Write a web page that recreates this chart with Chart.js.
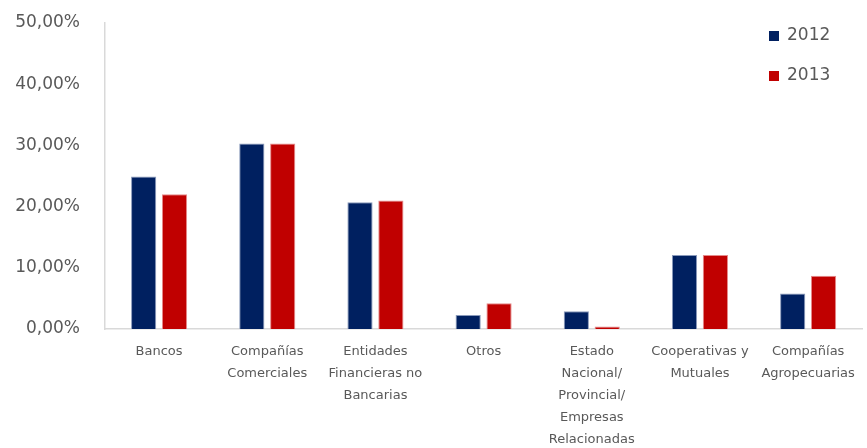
<!DOCTYPE html>
<html>
<head>
<meta charset="utf-8">
<script src="https://cdn.jsdelivr.net/npm/chart.js@4/dist/chart.umd.min.js"></script>
<style>
  html, body { margin: 0; padding: 0; background: #ffffff; }
  #wrap { width: 867px; height: 448px; position: relative; }
</style>
</head>
<body>
<div id="wrap"><canvas id="c" width="867" height="448"></canvas></div>
<script>
// Participación por tipo de emisor (porcentaje)
const categories = [
  'Bancos',
  ['Compañías', 'Comerciales'],
  ['Entidades', 'Financieras no', 'Bancarias'],
  'Otros',
  ['Estado', 'Nacional/', 'Provincial/', 'Empresas', 'Relacionadas'],
  ['Cooperativas y', 'Mutuales'],
  ['Compañías', 'Agropecuarias']
];
const seriesNames = ['2012', '2013'];
const values2012 = [24.9, 30.3, 20.7, 2.3, 2.9, 12.1, 5.8];
const values2013 = [22.0, 30.3, 21.0, 4.2, 0.4, 12.1, 8.7];
const yTicks = [0, 10, 20, 30, 40, 50];

const BLUE = '#002060';
const RED = '#C00000';
const TEXT = '#595959';
const AXIS = '#d9d9d9';
const FONT = "'DejaVu Sans', 'Liberation Sans', sans-serif";

// Legend drawn in the upper-right corner, over the plot area
const cornerLegend = {
  id: 'cornerLegend',
  afterDraw(chart) {
    const ctx = chart.ctx;
    ctx.save();
    ctx.font = '17px ' + FONT;
    ctx.textBaseline = 'middle';
    ctx.textAlign = 'left';
    chart.data.datasets.forEach((ds, i) => {
      const y = 36 + i * 40;
      ctx.fillStyle = ds.backgroundColor;
      ctx.fillRect(769, y - 5, 10, 10);
      ctx.fillStyle = TEXT;
      ctx.fillText(ds.label, 787, y);
    });
    ctx.restore();
  }
};

new Chart(document.getElementById('c'), {
  type: 'bar',
  data: {
    labels: categories,
    datasets: [
      { label: seriesNames[0], data: values2012, backgroundColor: BLUE, borderColor: '#8a9abb', borderWidth: 1 },
      { label: seriesNames[1], data: values2013, backgroundColor: RED, borderColor: '#e58a8a', borderWidth: 1 }
    ]
  },
  options: {
    responsive: false,
    animation: false,
    layout: { padding: { top: 23, right: 2, left: 0, bottom: 0 } },
    datasets: { bar: { categoryPercentage: 0.571, barPercentage: 0.816 } },
    plugins: {
      legend: { display: false },
      tooltip: { enabled: false }
    },
    scales: {
      x: {
        grid: { display: false, drawTicks: false },
        border: { display: true, color: AXIS, width: 1.5 },
        ticks: {
          color: TEXT,
          padding: 12,
          maxRotation: 0,
          autoSkip: false,
          font: { family: FONT, size: 13, lineHeight: 22 / 13 }
        },
        afterFit(scale) { scale.height = 119; }
      },
      y: {
        min: 0,
        max: 50,
        afterBuildTicks(scale) { scale.ticks = yTicks.map(v => ({ value: v })); },
        grid: { display: false, drawTicks: false },
        border: { display: true, color: AXIS, width: 1.5 },
        ticks: {
          color: TEXT,
          padding: 25,
          font: { family: FONT, size: 17 },
          callback: v => v.toFixed(2).replace('.', ',') + '%'
        },
        afterFit(scale) {
          scale.width = 105;
          scale.paddingTop = 0;
          scale.paddingBottom = 0;
        }
      }
    }
  },
  plugins: [cornerLegend]
});
</script>
</body>
</html>
